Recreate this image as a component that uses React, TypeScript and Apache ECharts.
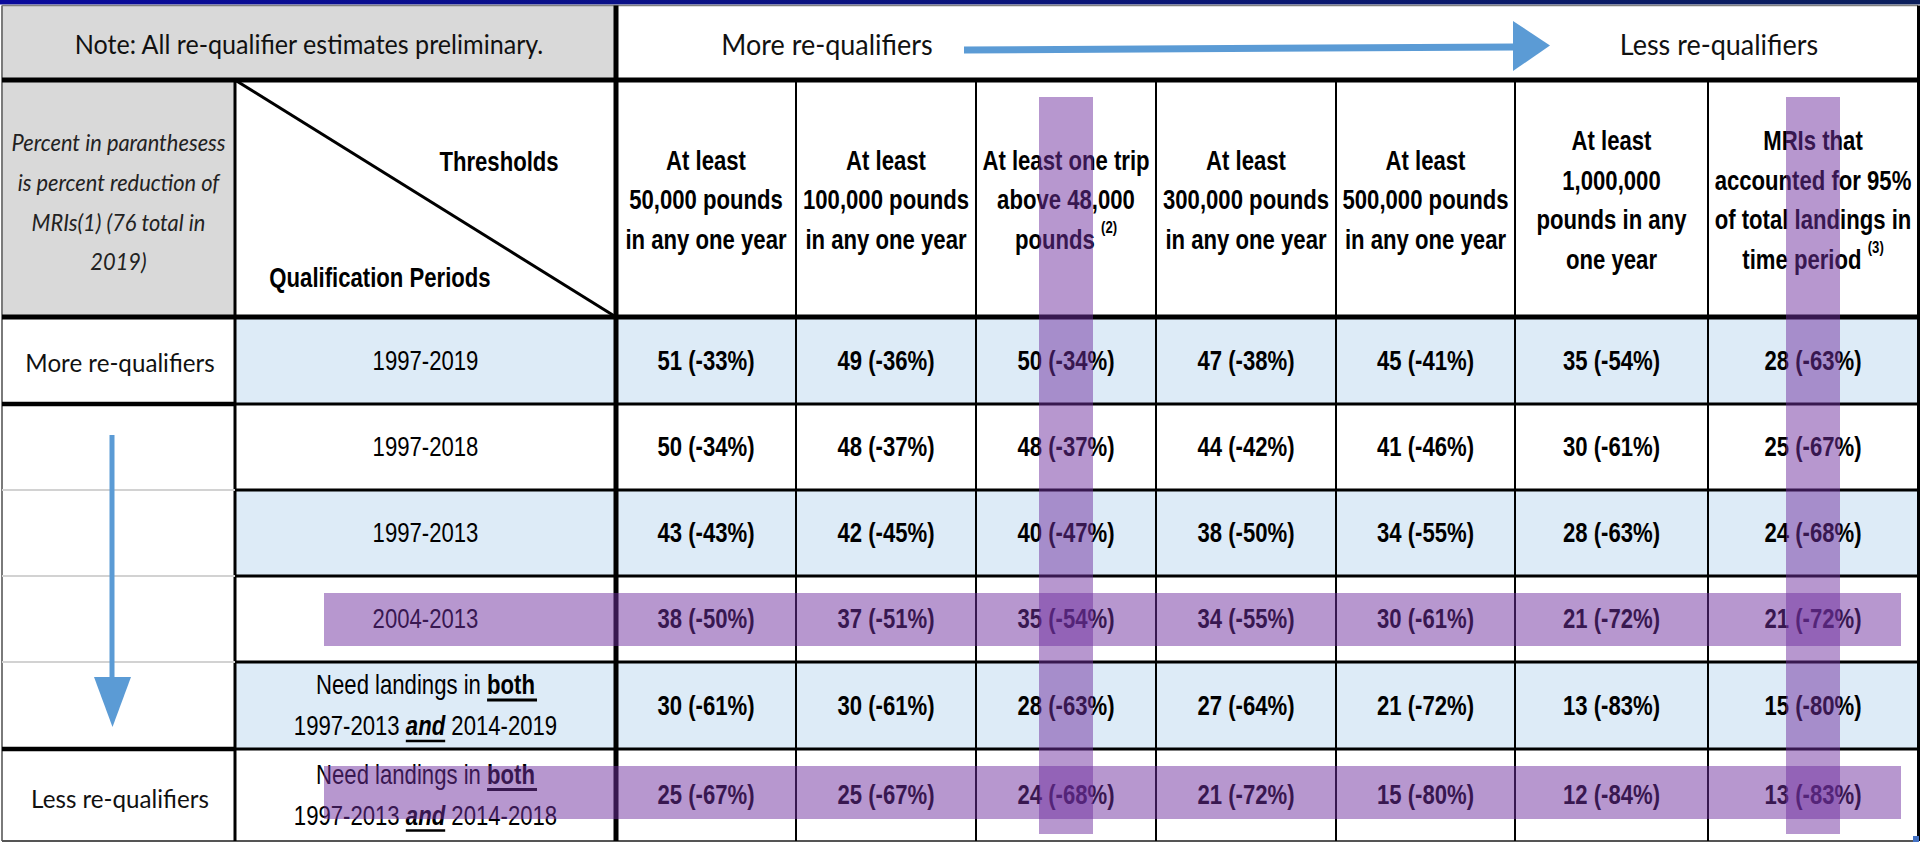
import React, { useEffect, useRef } from "react";
import * as echarts from "echarts";

// ---------------- data ----------------
const NOTE_TEXT = "Note: All re-qualifier estimates preliminary.";
const MORE_LABEL = "More re-qualifiers";
const LESS_LABEL = "Less re-qualifiers";
const SIDE_NOTE = ["Percent in paranthesess", "is percent reduction of", "MRIs(1) (76 total in", "2019)"];
const CORNER_TOP = "Thresholds";
const CORNER_BOTTOM = "Qualification Periods";

const THRESHOLDS = [
  ["At least", "50,000 pounds", "in any one year"],
  ["At least", "100,000 pounds", "in any one year"],
  ["At least one trip", "above 48,000", "pounds {sup|(2)}"],
  ["At least", "300,000 pounds", "in any one year"],
  ["At least", "500,000 pounds", "in any one year"],
  ["At least", "1,000,000", "pounds in any", "one year"],
  ["MRIs that", "accounted for 95%", "of total landings in", "time period {sup|(3)}"],
];

const PERIODS = [
  "1997-2019",
  "1997-2018",
  "1997-2013",
  "2004-2013",
  "Need landings in both 1997-2013 and 2014-2019",
  "Need landings in both 1997-2013 and 2014-2018",
];

const COUNT_1997_2019 = [51, 49, 50, 47, 45, 35, 28];
const PCT_1997_2019 = [-33, -36, -34, -38, -41, -54, -63];
const COUNT_1997_2018 = [50, 48, 48, 44, 41, 30, 25];
const PCT_1997_2018 = [-34, -37, -37, -42, -46, -61, -67];
const COUNT_1997_2013 = [43, 42, 40, 38, 34, 28, 24];
const PCT_1997_2013 = [-43, -45, -47, -50, -55, -63, -68];
const COUNT_2004_2013 = [38, 37, 35, 34, 30, 21, 21];
const PCT_2004_2013 = [-50, -51, -54, -55, -61, -72, -72];
const COUNT_BOTH_2019 = [30, 30, 28, 27, 21, 13, 15];
const PCT_BOTH_2019 = [-61, -61, -63, -64, -72, -83, -80];
const COUNT_BOTH_2018 = [25, 25, 24, 21, 15, 12, 13];
const PCT_BOTH_2018 = [-67, -67, -68, -72, -80, -84, -83];

const COUNT_ROWS = [COUNT_1997_2019, COUNT_1997_2018, COUNT_1997_2013, COUNT_2004_2013, COUNT_BOTH_2019, COUNT_BOTH_2018];
const PCT_ROWS = [PCT_1997_2019, PCT_1997_2018, PCT_1997_2013, PCT_2004_2013, PCT_BOTH_2019, PCT_BOTH_2018];

const HIGHLIGHT_THRESHOLDS = [2, 6];
const HIGHLIGHT_PERIODS = [3, 5];

// ---------------- layout ----------------
const W = 1920;
const H = 843;
const COL_X = [2, 235, 616, 796, 976, 1156, 1336, 1515, 1708, 1918];
const ROW_Y = [5.5, 80, 317, 404, 490, 576, 662, 749, 841];

const SANS = '"Liberation Sans", Arial, sans-serif';
const CAL = 'Lato, "Open Sans", sans-serif';
const NARROW = 0.82;
const CAL_SX = 0.93;
const BLUE = "#ddebf7";
const GRAY = "#d9d9d9";
const ARROW = "#5b9bd5";
const HILITE = "rgba(112,48,160,0.5)";
const FS = 27;

let _ctx: CanvasRenderingContext2D | null = null;
function textWidth(t: string, font: string): number {
  if (!_ctx) _ctx = document.createElement("canvas").getContext("2d");
  if (!_ctx) return t.length * 12;
  _ctx.font = font;
  return _ctx.measureText(t).width;
}

const BOTH_RE = /^Need landings in both (\S+) and (\S+)$/;

function rowFill(r: number) {
  return r % 2 === 0 ? BLUE : "#ffffff";
}

function line(x1: number, y1: number, x2: number, y2: number, w: number, color = "#000", z = 5) {
  return { type: "line", z, shape: { x1, y1, x2, y2 }, style: { stroke: color, lineWidth: w } };
}

function buildOption() {
  const valueData: number[][] = [];
  COUNT_ROWS.forEach((row, r) => row.forEach((v, j) => valueData.push([j + 2, r, v, PCT_ROWS[r][j]])));
  const periodData = PERIODS.map((_, r) => [1, r]);
  const hiData: number[][] = [
    ...HIGHLIGHT_THRESHOLDS.map((j) => [0, j]),
    ...HIGHLIGHT_PERIODS.map((r) => [1, r]),
  ];

  const g: any[] = [];
  // top navy band
  g.push({
    type: "rect",
    z: 1,
    shape: { x: 0, y: 0, width: W, height: 4.5 },
    style: {
      fill: {
        type: "linear", x: 0, y: 0, x2: 1, y2: 0,
        colorStops: [{ offset: 0, color: "#0a0a9c" }, { offset: 1, color: "#0b1f5c" }],
      },
    },
  });
  // header fills
  g.push({ type: "rect", z: 1, shape: { x: COL_X[0], y: ROW_Y[0], width: COL_X[2] - COL_X[0], height: ROW_Y[1] - ROW_Y[0] }, style: { fill: GRAY } });
  g.push({ type: "rect", z: 1, shape: { x: COL_X[0], y: ROW_Y[1], width: COL_X[1] - COL_X[0], height: ROW_Y[2] - ROW_Y[1] }, style: { fill: GRAY } });

  // header texts
  g.push({ type: "text", z: 6, x: (COL_X[0] + COL_X[2]) / 2, y: 44, scaleX: CAL_SX, style: { text: NOTE_TEXT, fontFamily: CAL, fontSize: 27, fill: "#111", textAlign: "center", textVerticalAlign: "middle" } });
  g.push({ type: "text", z: 6, x: 827, y: 44, scaleX: CAL_SX, style: { text: MORE_LABEL, fontFamily: CAL, fontSize: 29, fill: "#111", textAlign: "center", textVerticalAlign: "middle" } });
  g.push({ type: "text", z: 6, x: 1719, y: 44, scaleX: CAL_SX, style: { text: LESS_LABEL, fontFamily: CAL, fontSize: 29, fill: "#111", textAlign: "center", textVerticalAlign: "middle" } });
  g.push({ type: "text", z: 6, x: (COL_X[0] + COL_X[1]) / 2, y: 202, scaleX: CAL_SX, style: { text: SIDE_NOTE.join("\n"), fontFamily: CAL, fontStyle: "italic", fontSize: 23.5, lineHeight: 39.7, fill: "#222", textAlign: "center", textVerticalAlign: "middle" } });
  g.push({ type: "text", z: 6, x: 499, y: 162, scaleX: NARROW, style: { text: CORNER_TOP, fontFamily: SANS, fontWeight: "bold", fontSize: FS, fill: "#000", textAlign: "center", textVerticalAlign: "middle" } });
  g.push({ type: "text", z: 6, x: 380, y: 278, scaleX: NARROW, style: { text: CORNER_BOTTOM, fontFamily: SANS, fontWeight: "bold", fontSize: FS, fill: "#000", textAlign: "center", textVerticalAlign: "middle" } });

  THRESHOLDS.forEach((lines, j) => {
    const cx = (COL_X[j + 2] + COL_X[j + 3]) / 2;
    g.push({
      type: "text", z: 6, x: cx, y: 200, scaleX: NARROW,
      style: {
        text: lines.join("\n"), fontFamily: SANS, fontWeight: "bold", fontSize: FS, lineHeight: 39.5,
        fill: "#000", textAlign: "center", textVerticalAlign: "middle",
        rich: { sup: { fontFamily: SANS, fontWeight: "bold", fontSize: 16, lineHeight: 30, verticalAlign: "top", fill: "#000" } },
      },
    });
  });

  // left column direction labels
  g.push({ type: "text", z: 6, x: 120, y: 362, scaleX: CAL_SX, style: { text: MORE_LABEL, fontFamily: CAL, fontSize: 26, fill: "#111", textAlign: "center", textVerticalAlign: "middle" } });
  g.push({ type: "text", z: 6, x: 120, y: 798, scaleX: CAL_SX, style: { text: LESS_LABEL, fontFamily: CAL, fontSize: 26, fill: "#111", textAlign: "center", textVerticalAlign: "middle" } });

  // arrows
  g.push({ type: "polygon", z: 6, shape: { points: [[964, 46.5], [1514, 43.5], [1514, 50.5], [964, 53.5]] }, style: { fill: ARROW } });
  g.push({ type: "polygon", z: 6, shape: { points: [[1513, 21], [1550, 45.5], [1513, 71]] }, style: { fill: ARROW } });
  g.push({ type: "rect", z: 6, shape: { x: 109.5, y: 435, width: 5, height: 245 }, style: { fill: ARROW } });
  g.push({ type: "polygon", z: 6, shape: { points: [[94, 677], [131, 677], [112.5, 727]] }, style: { fill: ARROW } });

  // borders
  const top = ROW_Y[0], bot = ROW_Y[8];
  g.push(line(COL_X[0], top, COL_X[9], top, 1.5, "#808080"));
  g.push(line(COL_X[0], top, COL_X[0], bot, 2, "#7a7a7a"));
  g.push(line(COL_X[0], bot, COL_X[9], bot, 2, "#555"));
  g.push(line(COL_X[0], ROW_Y[1], W, ROW_Y[1], 5));
  g.push(line(COL_X[0], ROW_Y[2], W, ROW_Y[2], 5));
  g.push(line(COL_X[2], top, COL_X[2], bot, 5));
  g.push(line(COL_X[1], ROW_Y[1], COL_X[1], bot, 3));
  for (let c = 3; c <= 8; c++) g.push(line(COL_X[c], ROW_Y[1], COL_X[c], bot, 2));
  g.push(line(COL_X[9] + 0.5, top, COL_X[9] + 0.5, bot, 3));
  for (let i = 3; i <= 7; i++) {
    const y = ROW_Y[i];
    const thick = i === 3 || i === 7;
    g.push(line(COL_X[0], y, COL_X[1], y, thick ? 4.5 : 2, thick ? "#000" : "#d2d2d2"));
    g.push(line(COL_X[1], y, COL_X[9], y, 3));
  }
  // diagonal
  g.push(line(COL_X[1], ROW_Y[1], COL_X[2], ROW_Y[2], 3));
  // corner handle
  g.push({ type: "rect", z: 20, shape: { x: 1913, y: 836, width: 6, height: 6 }, style: { fill: "#4472c4" } });

  const regF = `${FS}px "Liberation Sans"`;
  const boldF = `bold ${FS}px "Liberation Sans"`;
  const biF = `italic bold ${FS}px "Liberation Sans"`;
  const PLH = 41;

  return {
    animation: false,
    backgroundColor: "#ffffff",
    grid: { left: 0, top: 0, right: 0, bottom: 0, containLabel: false },
    xAxis: { type: "value", min: 0, max: W, show: false },
    yAxis: { type: "value", min: 0, max: H, inverse: true, show: false },
    graphic: { elements: g },
    series: [
      {
        type: "custom",
        name: "periods",
        z: 2,
        data: periodData,
        encode: { x: 0, y: 1 },
        renderItem: (_p: any, api: any) => {
          const r = api.value(1) as number;
          const p0 = api.coord([COL_X[1], ROW_Y[r + 2]]);
          const p1 = api.coord([COL_X[2], ROW_Y[r + 3]]);
          const cx = (p0[0] + p1[0]) / 2;
          const cy = (p0[1] + p1[1]) / 2;
          const label = PERIODS[r];
          const children: any[] = [
            { type: "rect", shape: { x: p0[0], y: p0[1], width: p1[0] - p0[0], height: p1[1] - p0[1] }, style: { fill: rowFill(r) } },
          ];
          const m = BOTH_RE.exec(label);
          if (!m) {
            children.push({ type: "text", x: cx, y: cy, scaleX: NARROW, style: { text: label, fontFamily: SANS, fontSize: FS, fill: "#000", textAlign: "center", textVerticalAlign: "middle" } });
          } else {
            const l1a = "Need landings in ";
            const l1b = "both";
            const l2a = m[1] + " ";
            const l2b = "and";
            const l2c = " " + m[2];
            children.push({
              type: "text", x: cx, y: cy, scaleX: NARROW,
              style: {
                text: `${l1a}{b|${l1b}}\n${l2a}{bi|${l2b}}${l2c}`,
                fontFamily: SANS, fontSize: FS, lineHeight: PLH, fill: "#000",
                textAlign: "center", textVerticalAlign: "middle",
                rich: {
                  b: { fontFamily: SANS, fontWeight: "bold", fontSize: FS, lineHeight: PLH, fill: "#000" },
                  bi: { fontFamily: SANS, fontWeight: "bold", fontStyle: "italic", fontSize: FS, lineHeight: PLH, fill: "#000" },
                },
              },
            });
            const w1a = textWidth(l1a, regF) * NARROW;
            const w1b = textWidth(l1b, boldF) * NARROW;
            const s1 = cx - (w1a + w1b) / 2;
            const y1 = cy - PLH / 2 + 15;
            children.push({ type: "line", shape: { x1: s1 + w1a, y1, x2: s1 + w1a + w1b + 2, y2: y1 }, style: { stroke: "#000", lineWidth: 3 } });
            const w2a = textWidth(l2a, regF) * NARROW;
            const w2b = textWidth(l2b, biF) * NARROW;
            const w2c = textWidth(l2c, regF) * NARROW;
            const s2 = cx - (w2a + w2b + w2c) / 2;
            const y2 = cy + PLH / 2 + 15;
            children.push({ type: "line", shape: { x1: s2 + w2a, y1: y2, x2: s2 + w2a + w2b, y2 }, style: { stroke: "#000", lineWidth: 2.5 } });
          }
          return { type: "group", children };
        },
      },
      {
        type: "custom",
        name: "values",
        z: 2,
        data: valueData,
        encode: { x: 0, y: 1 },
        renderItem: (_p: any, api: any) => {
          const c = api.value(0) as number;
          const r = api.value(1) as number;
          const count = api.value(2);
          const pct = api.value(3);
          const p0 = api.coord([COL_X[c], ROW_Y[r + 2]]);
          const p1 = api.coord([COL_X[c + 1], ROW_Y[r + 3]]);
          return {
            type: "group",
            children: [
              { type: "rect", shape: { x: p0[0], y: p0[1], width: p1[0] - p0[0], height: p1[1] - p0[1] }, style: { fill: rowFill(r) } },
              {
                type: "text", x: (p0[0] + p1[0]) / 2, y: (p0[1] + p1[1]) / 2, scaleX: NARROW,
                style: { text: `${count} (${pct}%)`, fontFamily: SANS, fontWeight: "bold", fontSize: FS, fill: "#000", textAlign: "center", textVerticalAlign: "middle" },
              },
            ],
          };
        },
      },
      {
        type: "custom",
        name: "highlights",
        z: 10,
        data: hiData,
        encode: { x: 0, y: 1 },
        renderItem: (_p: any, api: any) => {
          const kind = api.value(0) as number;
          const idx = api.value(1) as number;
          if (kind === 0) {
            const a = api.coord([COL_X[idx + 2], ROW_Y[1] + 17]);
            const b = api.coord([COL_X[idx + 3], ROW_Y[8] - 7]);
            const cx = (a[0] + b[0]) / 2;
            return { type: "rect", shape: { x: cx - 27, y: a[1], width: 54, height: b[1] - a[1] }, style: { fill: HILITE } };
          }
          const a = api.coord([COL_X[1] + 89, ROW_Y[idx + 2] + 17]);
          const b = api.coord([COL_X[9] - 17, ROW_Y[idx + 2] + 70]);
          return { type: "rect", shape: { x: a[0], y: a[1], width: b[0] - a[0], height: b[1] - a[1] }, style: { fill: HILITE } };
        },
      },
    ],
  };
}

export default function App() {
  const ref = useRef<HTMLDivElement>(null);
  useEffect(() => {
    if (!ref.current) return;
    const chart = echarts.init(ref.current, undefined, { renderer: "svg" });
    chart.setOption(buildOption() as any);
    return () => chart.dispose();
  }, []);
  return (
    <div
      ref={ref}
      style={{ position: "fixed", left: 0, top: 0, width: W, height: H, background: "#fff" }}
    />
  );
}
